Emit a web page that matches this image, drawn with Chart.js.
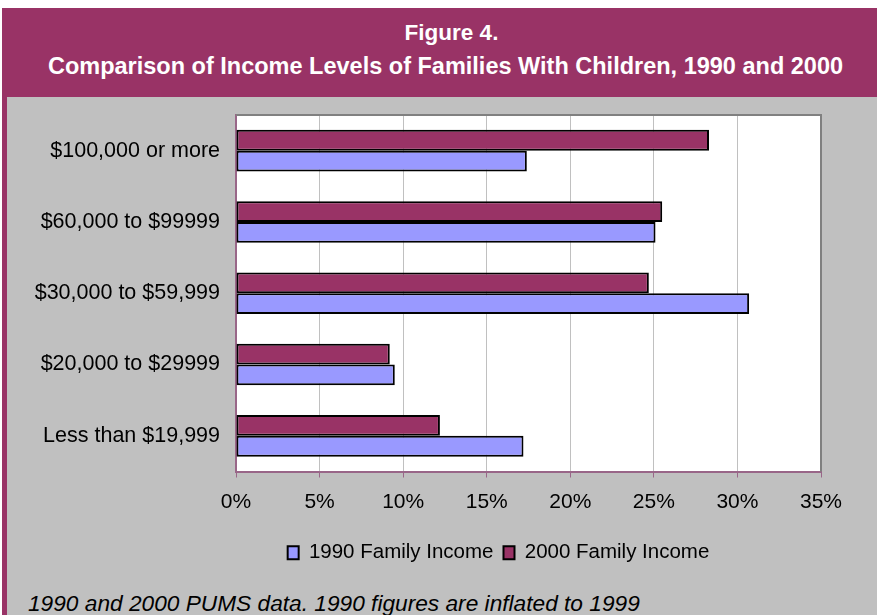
<!DOCTYPE html>
<html>
<head>
<meta charset="utf-8">
<script src="https://cdn.jsdelivr.net/npm/chart.js@4"></script>
<style>
  body { margin: 0; background: #fff; width: 877px; height: 615px; overflow: hidden; position: relative;
         font-family: "Liberation Sans", Arial, sans-serif; }
  #head { position: absolute; left: 2px; top: 8px; width: 875px; height: 89px; background: #993366; }
  #head div { position: absolute; left: 12px; width: 875px; text-align: center; color: #fff; font-weight: bold; }
  #body { position: absolute; left: 2px; top: 97px; width: 870px; height: 518px; background: #c0c0c0;
          border-left: 5px solid #993366; }
  #wrap { position: absolute; left: 0; top: 97px; width: 877px; height: 481px; }
  #note { position: absolute; left: 28px; top: 592px; font-size: 22.7px; line-height: 22px; font-style: italic; color: #000; }
</style>
</head>
<body>
<div id="head">
  <div style="top:13px;font-size:22.5px;line-height:23px;">Figure 4.</div>
  <div style="top:47px;font-size:23.5px;line-height:23px;left:6px;">Comparison of Income Levels of Families With Children, 1990 and 2000</div>
</div>
<div id="body"></div>
<div id="wrap"><canvas id="grafico"></canvas></div>
<div id="note">1990 and 2000 PUMS data. 1990 figures are inflated to 1999</div>
<script>
// categorias y valores (porcentaje de familias)
var categorias = ['$100,000 or more', '$60,000 to $99999', '$30,000 to $59,999', '$20,000 to $29999', 'Less than $19,999'];
var ingreso1990 = [17.4, 25.1, 30.7, 9.5, 17.2];
var ingreso2000 = [28.3, 25.5, 24.7, 9.2, 12.2];
var ticksX = [0, 5, 10, 15, 20, 25, 30, 35];

var fuente = '"Liberation Sans", Arial, sans-serif';
var corrimientoLeyenda = 88;

// fondo blanco y borde gris del area del grafico, leyenda corrida a la derecha
var marcoPlot = {
    id: 'marcoPlot',
    afterLayout: function (chart) {
        chart.legend.left += corrimientoLeyenda;
        chart.legend.right += corrimientoLeyenda;
    },
    beforeDraw: function (chart) {
        var a = chart.chartArea, ctx = chart.ctx;
        ctx.save();
        ctx.fillStyle = '#ffffff';
        ctx.fillRect(a.left, a.top, a.right - a.left, a.bottom - a.top);
        ctx.restore();
    },
    afterDraw: function (chart) {
        var a = chart.chartArea, ctx = chart.ctx;
        ctx.save();
        ctx.strokeStyle = '#808080';
        ctx.lineWidth = 2;
        ctx.beginPath();
        ctx.moveTo(a.left, a.top);
        ctx.lineTo(a.right, a.top);
        ctx.lineTo(a.right, a.bottom);
        ctx.stroke();
        ctx.restore();
    }
};

var ctx = document.getElementById('grafico');
var myChart = new Chart(ctx, {
    type: 'bar',
    data: {
        labels: categorias,
        datasets: [{
            label: '2000 Family Income',
            data: ingreso2000,
            backgroundColor: '#993366',
            borderColor: '#000000',
            borderWidth: 2,
            borderSkipped: false
        }, {
            label: '1990 Family Income',
            data: ingreso1990,
            backgroundColor: '#9999ff',
            borderColor: '#000000',
            borderWidth: 2,
            borderSkipped: false
        }]
    },
    options: {
        indexAxis: 'y',
        responsive: true,
        maintainAspectRatio: false,
        animation: false,
        categoryPercentage: 0.584,
        barPercentage: 1,
        layout: { padding: { top: 18, right: 56, left: 0, bottom: 5 } },
        scales: {
            x: {
                min: 0,
                max: 35,
                afterBuildTicks: function (scale) {
                    scale.ticks = ticksX.map(function (v) { return { value: v }; });
                },
                afterFit: function (scale) { scale.height = 61; },
                grid: { color: '#c0c0c0', tickColor: '#996688', tickLength: 6 },
                border: { color: '#996688', width: 2 },
                ticks: {
                    padding: 12,
                    color: '#000',
                    font: { family: fuente, size: 21 },
                    callback: function (v) { return v + '%'; }
                }
            },
            y: {
                afterFit: function (scale) { scale.width = 236; },
                grid: { color: 'rgba(0,0,0,0)', tickColor: 'rgba(0,0,0,0)', tickLength: 16 },
                border: { color: '#996688', width: 2 },
                ticks: {
                    padding: 0,
                    color: '#000',
                    font: { family: fuente, size: 21.5 }
                }
            }
        },
        plugins: {
            legend: {
                position: 'bottom',
                reverse: true,
                labels: {
                    boxWidth: 11,
                    boxHeight: 13,
                    padding: 10,
                    color: '#000',
                    font: { family: fuente, size: 20.5 }
                }
            },
            tooltip: { enabled: false }
        }
    },
    plugins: [marcoPlot]
});
</script>
</body>
</html>
